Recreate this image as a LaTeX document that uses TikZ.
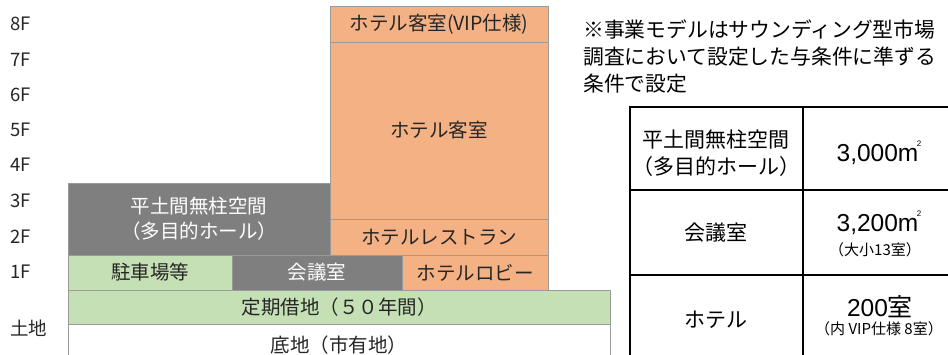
\documentclass[tikz,border=0pt]{standalone}
\usepackage{fontspec}
\setmainfont{Noto Sans CJK JP}
\newfontfamily\arialf{Liberation Sans}
\definecolor{org}{HTML}{F4B183}
\definecolor{grn}{HTML}{C5E0B4}
\definecolor{gry}{HTML}{7F7F7F}
\definecolor{bord}{HTML}{9A9A9A}
\definecolor{txt}{HTML}{262626}
\newcommand{\sqmark}{m\kern-1.5pt\raisebox{0.6em}{\fontsize{8}{8}\selectfont 2}}
\begin{document}
\begin{tikzpicture}[x=1pt,y=-1pt,
  blk/.style={draw=bord, line width=0.8pt, inner sep=0pt, outer sep=0pt, align=center,
    font=\fontsize{19.5}{25}\selectfont, text=txt},
  orblk/.style={blk, fill=org},
  grblk/.style={blk, fill=grn},
  gyblk/.style={blk, fill=gry, text=white},
  whblk/.style={blk, fill=white},
  floor/.style={anchor=west, inner sep=0pt, font=\fontsize{18.5}{20}\selectfont, text=txt},
  cell/.style={draw=black, line width=1.4pt, inner sep=0pt, outer sep=0pt},
  ctext/.style={inner sep=0pt, align=center, font=\fontsize{21}{27}\selectfont, text=black},
  big/.style={inner sep=0pt, font=\arialf\fontsize{24.5}{27}\selectfont, text=black},
  small/.style={inner sep=0pt, font=\fontsize{15}{17}\selectfont, text=black}
]
\clip (0,0) rectangle (948,355);
\fill[white] (0,0) rectangle (948,355);

% floor labels
\node[floor] (f8) at (10,24) {8F};
\node[floor] (f7) at (10,60) {7F};
\node[floor] (f6) at (10,95) {6F};
\node[floor] (f5) at (10,130) {5F};
\node[floor] (f4) at (10,165) {4F};
\node[floor] (f3) at (10,201) {3F};
\node[floor] (f2) at (10,237) {2F};
\node[floor] (f1) at (10,272) {1F};
\node[floor] (land) at (10,328) {土地};

% building blocks
\node[whblk, minimum width=542pt, minimum height=42pt] (base) at (339,345) {底地（市有地）};
\node[grblk, minimum width=542pt, minimum height=34pt] (lease) at (339,307) {定期借地（５０年間）};
\node[gyblk, minimum width=262pt, minimum height=72pt] (hall) at (199,219) {平土間無柱空間\\（多目的ホール）};
\node[grblk, minimum width=164pt, minimum height=35pt] (park) at (150,272.5) {駐車場等};
\node[gyblk, minimum width=170pt, minimum height=35pt] (conf) at (317,272.5) {会議室};
\node[orblk, minimum width=146pt, minimum height=35pt] (lobby) at (475,272.5) {ホテルロビー};
\node[orblk, minimum width=218pt, minimum height=36pt] (rest) at (439,237) {ホテルレストラン};
\node[orblk, minimum width=218pt, minimum height=177pt] (rooms) at (439,130.5) {ホテル客室};
\node[orblk, minimum width=218pt, minimum height=36pt] (vip) at (439,24) {ホテル客室(VIP仕様)};

% note
\node[anchor=west, inner sep=0pt, align=left, font=\fontsize{20.8}{27}\selectfont, text=black] (note) at (583,57)
  {※事業モデルはサウンディング型市場\\調査において設定した与条件に準ずる\\条件で設定};

% table
\node[cell, minimum width=173pt, minimum height=83pt] (c11) at (716.5,148.5) {};
\node[cell, minimum width=157pt, minimum height=83pt] (c12) at (881.5,148.5) {};
\node[cell, minimum width=173pt, minimum height=85pt] (c21) at (716.5,232.5) {};
\node[cell, minimum width=157pt, minimum height=85pt] (c22) at (881.5,232.5) {};
\node[cell, minimum width=173pt, minimum height=90pt] (c31) at (716.5,320) {};
\node[cell, minimum width=157pt, minimum height=90pt] (c32) at (881.5,320) {};

\node[ctext] (t11) at (716,153) {平土間無柱空間\\（多目的ホール）};
\node[big] (t12) at (879,153) {3,000\sqmark};
\node[ctext] (t21) at (716,233) {会議室};
\node[big] (t22a) at (879,223) {3,200\sqmark};
\node[small] (t22b) at (875,250) {（大小13室）};
\node[big] (t32a) at (880,307) {200{\rmfamily\fontsize{25}{27}\selectfont 室}};
\node[ctext] (t31) at (716,320) {ホテル};
\node[small] (t32b) at (879,329) {（内 VIP仕様 8室）};
\end{tikzpicture}
\end{document}
